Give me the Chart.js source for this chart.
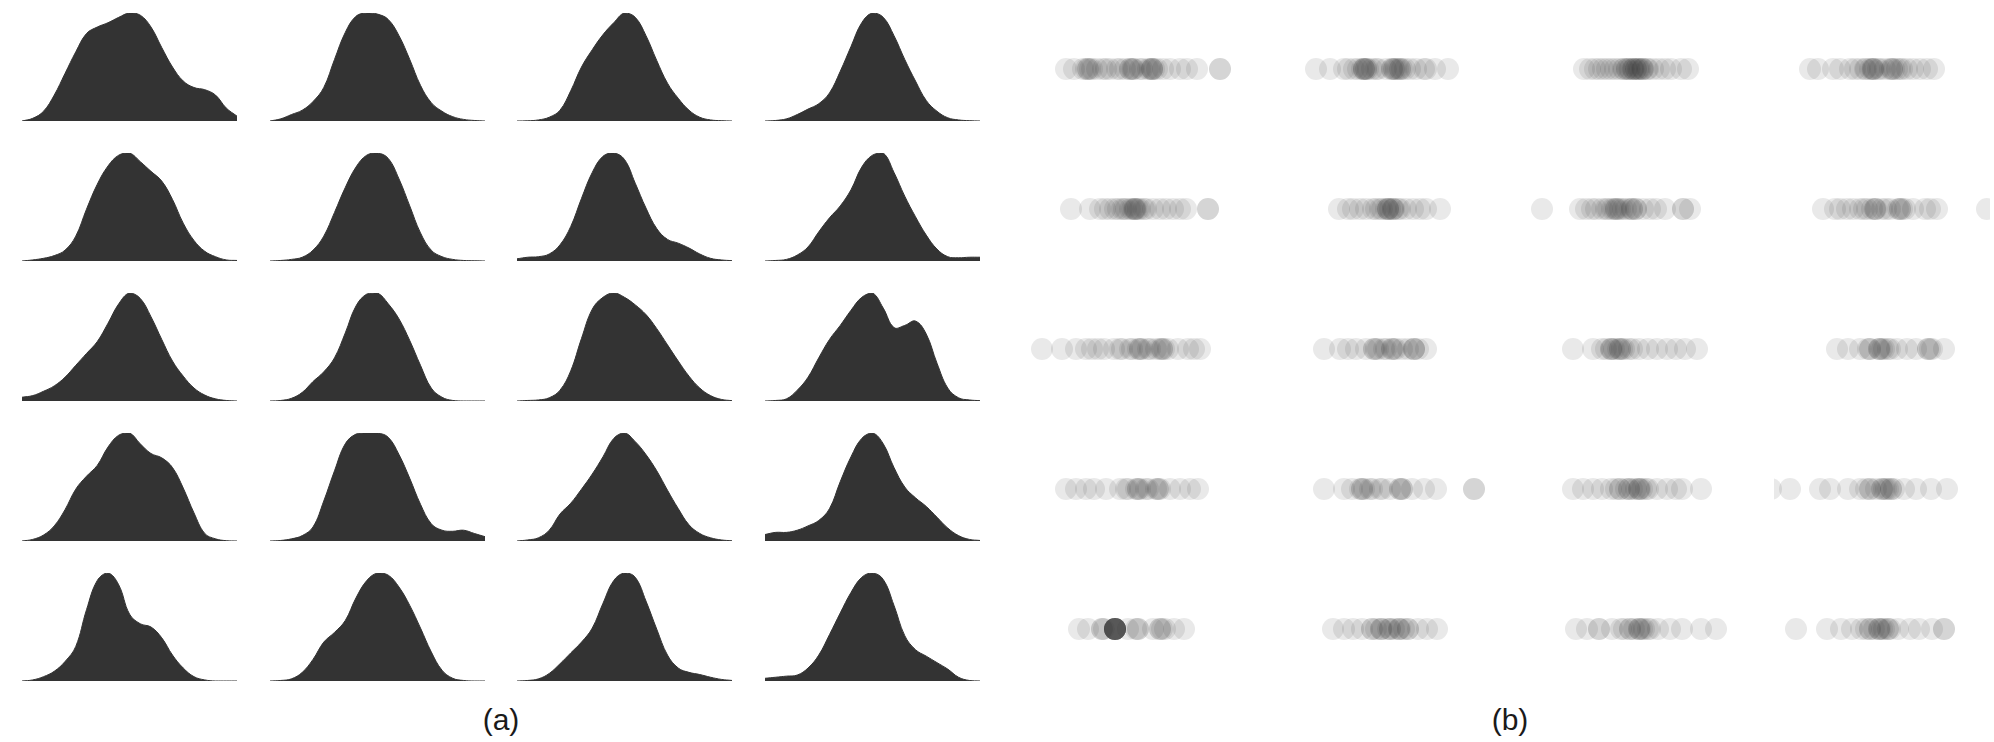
<!DOCTYPE html>
<html>
<head>
<meta charset="utf-8">
<script src="https://cdn.jsdelivr.net/npm/chart.js@4.4.0/dist/chart.umd.min.js"></script>
<style>
  html, body { margin: 0; padding: 0; background: #ffffff; }
  #root { position: relative; width: 1994px; height: 742px; overflow: hidden; background: #ffffff; }
  #root canvas { position: absolute; }
  .lbl { position: absolute; font-family: "Liberation Sans", Arial, sans-serif; font-size: 30px; line-height: 30px; color: #1a1a1a; width: 120px; text-align: center; }
</style>
</head>
<body>
<div id="root"></div>
<script>
// ---------- DATA ----------
// density sample positions (21 evenly spaced samples across each panel's range)
const densityX = [0,1,2,3,4,5,6,7,8,9,10,11,12,13,14,15,16,17,18,19,20];

// (a) density heights, percent of each panel's peak
const densA_r1c1 = [0, 2.5, 9, 24, 44, 64, 81, 87, 91, 96, 100, 98, 87, 68, 50, 37, 31, 29, 24, 12, 4.5];
const densA_r1c2 = [0, 2, 6, 10, 18, 31, 57, 82, 97, 100, 99, 94, 79, 57, 33, 17, 9, 4, 1.5, 0.5, 0];
const densA_r1c3 = [0, 0.2, 1, 3.5, 10, 28, 50, 66, 80, 91, 100, 96, 79, 56, 35, 21, 10, 3.5, 1, 0.3, 0];
const densA_r1c4 = [0, 0.5, 2, 6, 11, 16, 26, 46, 69, 91, 100, 96, 79, 57, 37, 19, 9, 3, 1, 0.3, 0];
const densA_r2c1 = [0, 1, 2.5, 5, 10, 23, 48, 71, 88, 98, 100, 92, 83, 74, 57, 35, 19, 9, 4, 1, 0.5];
const densA_r2c2 = [0, 0.5, 1.5, 3.5, 10, 23, 45, 68, 87, 98, 100, 95, 76, 51, 26, 10, 4, 1.5, 0.5, 0.2, 0];
const densA_r2c3 = [2, 3.5, 4, 6.5, 15, 32, 58, 82, 97, 100, 94, 72, 49, 30, 20, 16.5, 12, 6.5, 2.5, 1, 0.3];
const densA_r2c4 = [0, 0.5, 1.5, 5.5, 13, 27, 40, 51, 66, 87, 98, 100, 82, 60, 41, 24, 11, 4, 3, 3.5, 3.5];
const densA_r3c1 = [3.5, 5, 9, 14, 22, 33, 44, 55, 72, 90, 100, 95, 78, 57, 37, 23, 12, 5.5, 2, 0.5, 0];
const densA_r3c2 = [0, 0.5, 2.5, 8, 18, 27, 40, 63, 88, 99, 100, 90, 76, 56, 33, 12, 3.5, 0.5, 0, 0, 0];
const densA_r3c3 = [0, 0.5, 1, 3, 10, 28, 58, 85, 96, 100, 96, 89, 80, 67, 52, 37, 23, 12, 5, 1.5, 0.3];
const densA_r3c4 = [0, 0.5, 2, 10, 22, 40, 57, 70, 84, 96, 100, 86, 68, 70, 74, 62, 35, 12, 3, 1, 0.3];
const densA_r4c1 = [0, 1.5, 5.5, 14, 29, 48, 60, 70, 87, 98, 100, 90, 81, 77, 68, 49, 26, 7, 2, 0.3, 0];
const densA_r4c2 = [0, 0.5, 2, 5, 13, 37, 65, 90, 99, 100, 100, 96, 80, 58, 34, 16, 10, 9, 10, 7, 4];
const densA_r4c3 = [0, 1, 3, 10, 25, 35, 48, 62, 78, 95, 100, 92, 80, 65, 47, 30, 15, 7, 3, 1, 0.2];
const densA_r4c4 = [6, 8, 8, 10, 14, 19, 30, 55, 78, 95, 100, 90, 68, 50, 40, 32, 22, 12, 5, 1.5, 0.5];
const densA_r5c1 = [0, 1, 4, 9, 18, 32, 66, 93, 100, 89, 62, 53, 50, 40, 24, 12, 4, 1, 0, 0, 0];
const densA_r5c2 = [0, 0.5, 2, 8, 20, 36, 45, 56, 77, 93, 100, 98, 87, 70, 49, 27, 10, 2.5, 0.5, 0, 0];
const densA_r5c3 = [0, 0.5, 2, 7, 16, 26, 36, 49, 72, 93, 100, 96, 74, 48, 24, 12, 8, 6, 3.5, 1.5, 0.5];
const densA_r5c4 = [2.5, 3.5, 4.5, 5.5, 12, 24, 43, 63, 82, 96, 100, 94, 70, 42, 29, 23, 17, 11, 3.5, 0.5, 0];

// (b) strip plot observations (panel range 0..108)
const stripB_r1c1 = [18, 22, 26.5, 28, 29, 29, 30, 31, 33.5, 36.5, 38, 40, 43.5, 45, 47.5, 50, 50, 51, 51.5, 52, 55, 56, 59, 60, 61, 61, 61, 62, 63.5, 66.5, 70, 75, 78.5, 83.5, 95, 95];
const stripB_r1c2 = [19, 26, 33, 35, 38, 40, 42, 43, 43, 43, 44, 44, 45, 47, 49, 50, 54, 57, 57, 58, 58, 59, 60, 61, 61, 62, 63.5, 66, 69, 73, 74, 78.5, 85];
const stripB_r1c3 = [29, 32, 34.5, 36.5, 38.5, 40.5, 42.5, 44.5, 46.5, 48.5, 49, 50.5, 50.5, 51.5, 52, 53.5, 53.5, 54, 55, 55, 56, 56.5, 57, 58, 58.5, 58.5, 60.5, 61, 63.5, 66.5, 69.5, 72.5, 77.5, 81];
const stripB_r1c4 = [18, 22, 29.5, 33, 38, 40.5, 43, 45.5, 46, 48, 49, 49.5, 49.5, 50, 52, 53, 55.5, 58, 59, 59, 60, 61.5, 63, 64, 66.5, 69.5, 73, 76.5, 80];
const stripB_r2c1 = [20.5, 30, 35, 37.5, 40, 42.5, 44, 46, 47, 48, 50, 51, 52, 52.5, 52.5, 53, 54, 55, 57, 58, 61.5, 65, 68, 71.5, 75, 78, 89, 89];
const stripB_r2c2 = [30.5, 35, 37.5, 41, 44, 47.5, 49, 51, 52, 54, 55, 55, 55, 56, 57.5, 57.5, 58, 60, 61, 64, 67.5, 71, 74, 81];
const stripB_r2c3 = [8, 27, 30, 33, 35, 38, 40, 41, 43, 44, 45, 45, 46, 47, 48.5, 50, 52, 53, 53, 55, 55, 58.5, 62, 65, 69.5, 78.5, 78.5, 82];
const stripB_r2c4 = [24.5, 30.5, 33, 36.5, 39.5, 43, 45, 46.5, 49, 50.5, 50.5, 51, 54, 56, 58, 62, 63, 63, 64, 65.5, 69.5, 75.5, 78, 81.5, 106.5];
const stripB_r3c1 = [6, 16, 23, 28, 31, 34, 37, 42, 45, 46, 50, 51, 54, 55, 55, 56, 59, 60, 63, 65, 66, 66, 67, 69, 74, 79, 82, 85];
const stripB_r3c2 = [23, 31, 35, 39, 44, 48, 48, 49, 50, 53, 54, 57, 57, 58, 59, 62, 65, 68, 68, 68, 70, 74];
const stripB_r3c3 = [23.5, 33.5, 38, 40, 42.5, 42.5, 43, 44, 46, 47, 47, 48, 49, 51.5, 53, 56.5, 61, 65.5, 70.5, 75, 79.5, 85.5];
const stripB_r3c4 = [31.5, 37, 43, 47, 48, 48, 52.5, 52.5, 53, 54, 55, 57, 58, 61.5, 66.5, 71, 77, 77, 78, 79, 85];
const stripB_r4c1 = [18, 23, 28, 32, 38, 45, 48, 49, 53, 54, 54, 55, 58, 59, 63, 64, 64, 65, 70, 75, 80, 84];
const stripB_r4c2 = [23, 33, 37, 41, 42, 42, 43, 46, 47, 51, 52, 56, 61, 61, 62, 62, 67, 73, 79, 98, 98];
const stripB_r4c3 = [23.5, 28.5, 33.5, 38, 42.5, 45, 47, 47, 50, 51.5, 51.5, 53, 55, 56.5, 56.5, 57, 58, 60, 61, 65.5, 70.5, 75, 78, 87.5];
const stripB_r4c4 = [-1.5, 8, 23, 28, 37, 43, 46, 48, 48, 51, 54, 54, 55, 56, 57, 58.5, 58.5, 60, 65, 71, 78.5, 86.5];
const stripB_r5c1 = [24.5, 29, 36, 36, 37, 42.5, 42.5, 42.5, 42.5, 42.5, 42.5, 42.5, 42.5, 42.5, 42.5, 42.5, 42.5, 42.5, 42.5, 49, 53, 54, 54, 61.5, 65, 65, 66, 67.5, 72, 77];
const stripB_r5c2 = [27.5, 33, 37.5, 42, 47, 47, 49, 51.5, 51.5, 52, 55, 56, 56, 58, 60.5, 60.5, 61, 63, 65, 65, 70, 74.5, 79.5];
const stripB_r5c3 = [25, 30.5, 36.5, 36.5, 43, 47.5, 49, 52, 52, 54, 56.5, 56.5, 57, 58, 59, 61, 62, 66, 72, 78, 87.5, 95];
const stripB_r5c4 = [11, 26.5, 33.5, 39, 43.5, 46, 48, 48, 50, 52.5, 52.5, 53, 54, 55, 57, 57, 58, 62, 68, 72.5, 79, 85, 85];

const panelLabels = ['(a)', '(b)'];

// ---------- LAYOUT ----------
const densityPanels = [
  [densA_r1c1, densA_r1c2, densA_r1c3, densA_r1c4],
  [densA_r2c1, densA_r2c2, densA_r2c3, densA_r2c4],
  [densA_r3c1, densA_r3c2, densA_r3c3, densA_r3c4],
  [densA_r4c1, densA_r4c2, densA_r4c3, densA_r4c4],
  [densA_r5c1, densA_r5c2, densA_r5c3, densA_r5c4]
];
const stripPanels = [
  [stripB_r1c1, stripB_r1c2, stripB_r1c3, stripB_r1c4],
  [stripB_r2c1, stripB_r2c2, stripB_r2c3, stripB_r2c4],
  [stripB_r3c1, stripB_r3c2, stripB_r3c3, stripB_r3c4],
  [stripB_r4c1, stripB_r4c2, stripB_r4c3, stripB_r4c4],
  [stripB_r5c1, stripB_r5c2, stripB_r5c3, stripB_r5c4]
];

const root = document.getElementById('root');
const colLeftA = [22, 270, 517, 765];
const colLeftB = [1030, 1278, 1526, 1774];
const panelW = 216;
const rowStep = 140;

function makeCanvas(left, top, w, h) {
  const c = document.createElement('canvas');
  c.width = w; c.height = h;
  c.style.left = left + 'px'; c.style.top = top + 'px';
  c.style.width = w + 'px'; c.style.height = h + 'px';
  root.appendChild(c);
  return c;
}

const baseOpts = {
  responsive: false,
  animation: false,
  events: [],
  devicePixelRatio: 1,
  plugins: { legend: { display: false }, tooltip: { enabled: false }, title: { display: false } }
};

densityPanels.forEach((row, r) => {
  row.forEach((vals, c) => {
    const top = 13 + rowStep * r - 1;
    const cv = makeCanvas(colLeftA[c], top, 215, 110);
    new Chart(cv, {
      type: 'line',
      data: {
        labels: densityX,
        datasets: [{
          data: densityX.map((x, i) => ({ x: x, y: vals[i] })),
          fill: 'origin',
          backgroundColor: '#333333',
          borderColor: '#333333',
          borderWidth: 1,
          pointRadius: 0,
          tension: 0.4
        }]
      },
      options: Object.assign({}, baseOpts, {
        layout: { autoPadding: false, padding: { top: 1, bottom: 1, left: 0, right: 0 } },
        scales: {
          x: { type: 'linear', min: 0, max: 20, display: false },
          y: { type: 'linear', min: 0, max: 100, display: false }
        }
      })
    });
  });
});

stripPanels.forEach((row, r) => {
  row.forEach((vals, c) => {
    const cy = 69 + rowStep * r;
    const cv = makeCanvas(colLeftB[c], cy - 16, panelW, 32);
    new Chart(cv, {
      type: 'scatter',
      data: {
        datasets: [{
          data: vals.map(v => ({ x: v, y: 0 })),
          pointRadius: 11,
          pointBackgroundColor: 'rgba(51,51,51,0.105)',
          backgroundColor: 'rgba(51,51,51,0.105)',
          borderWidth: 0,
          pointBorderWidth: 0,
          clip: 0
        }]
      },
      options: Object.assign({}, baseOpts, {
        layout: { autoPadding: false, padding: 0 },
        scales: {
          x: { type: 'linear', min: 0, max: 108, display: false },
          y: { type: 'linear', min: -1, max: 1, display: false }
        }
      })
    });
  });
});

// panel captions
[[panelLabels[0], 501], [panelLabels[1], 1510]].forEach(([t, cx]) => {
  const d = document.createElement('div');
  d.className = 'lbl';
  d.textContent = t;
  d.style.left = (cx - 60) + 'px';
  d.style.top = '705px';
  root.appendChild(d);
});
</script>
</body>
</html>
